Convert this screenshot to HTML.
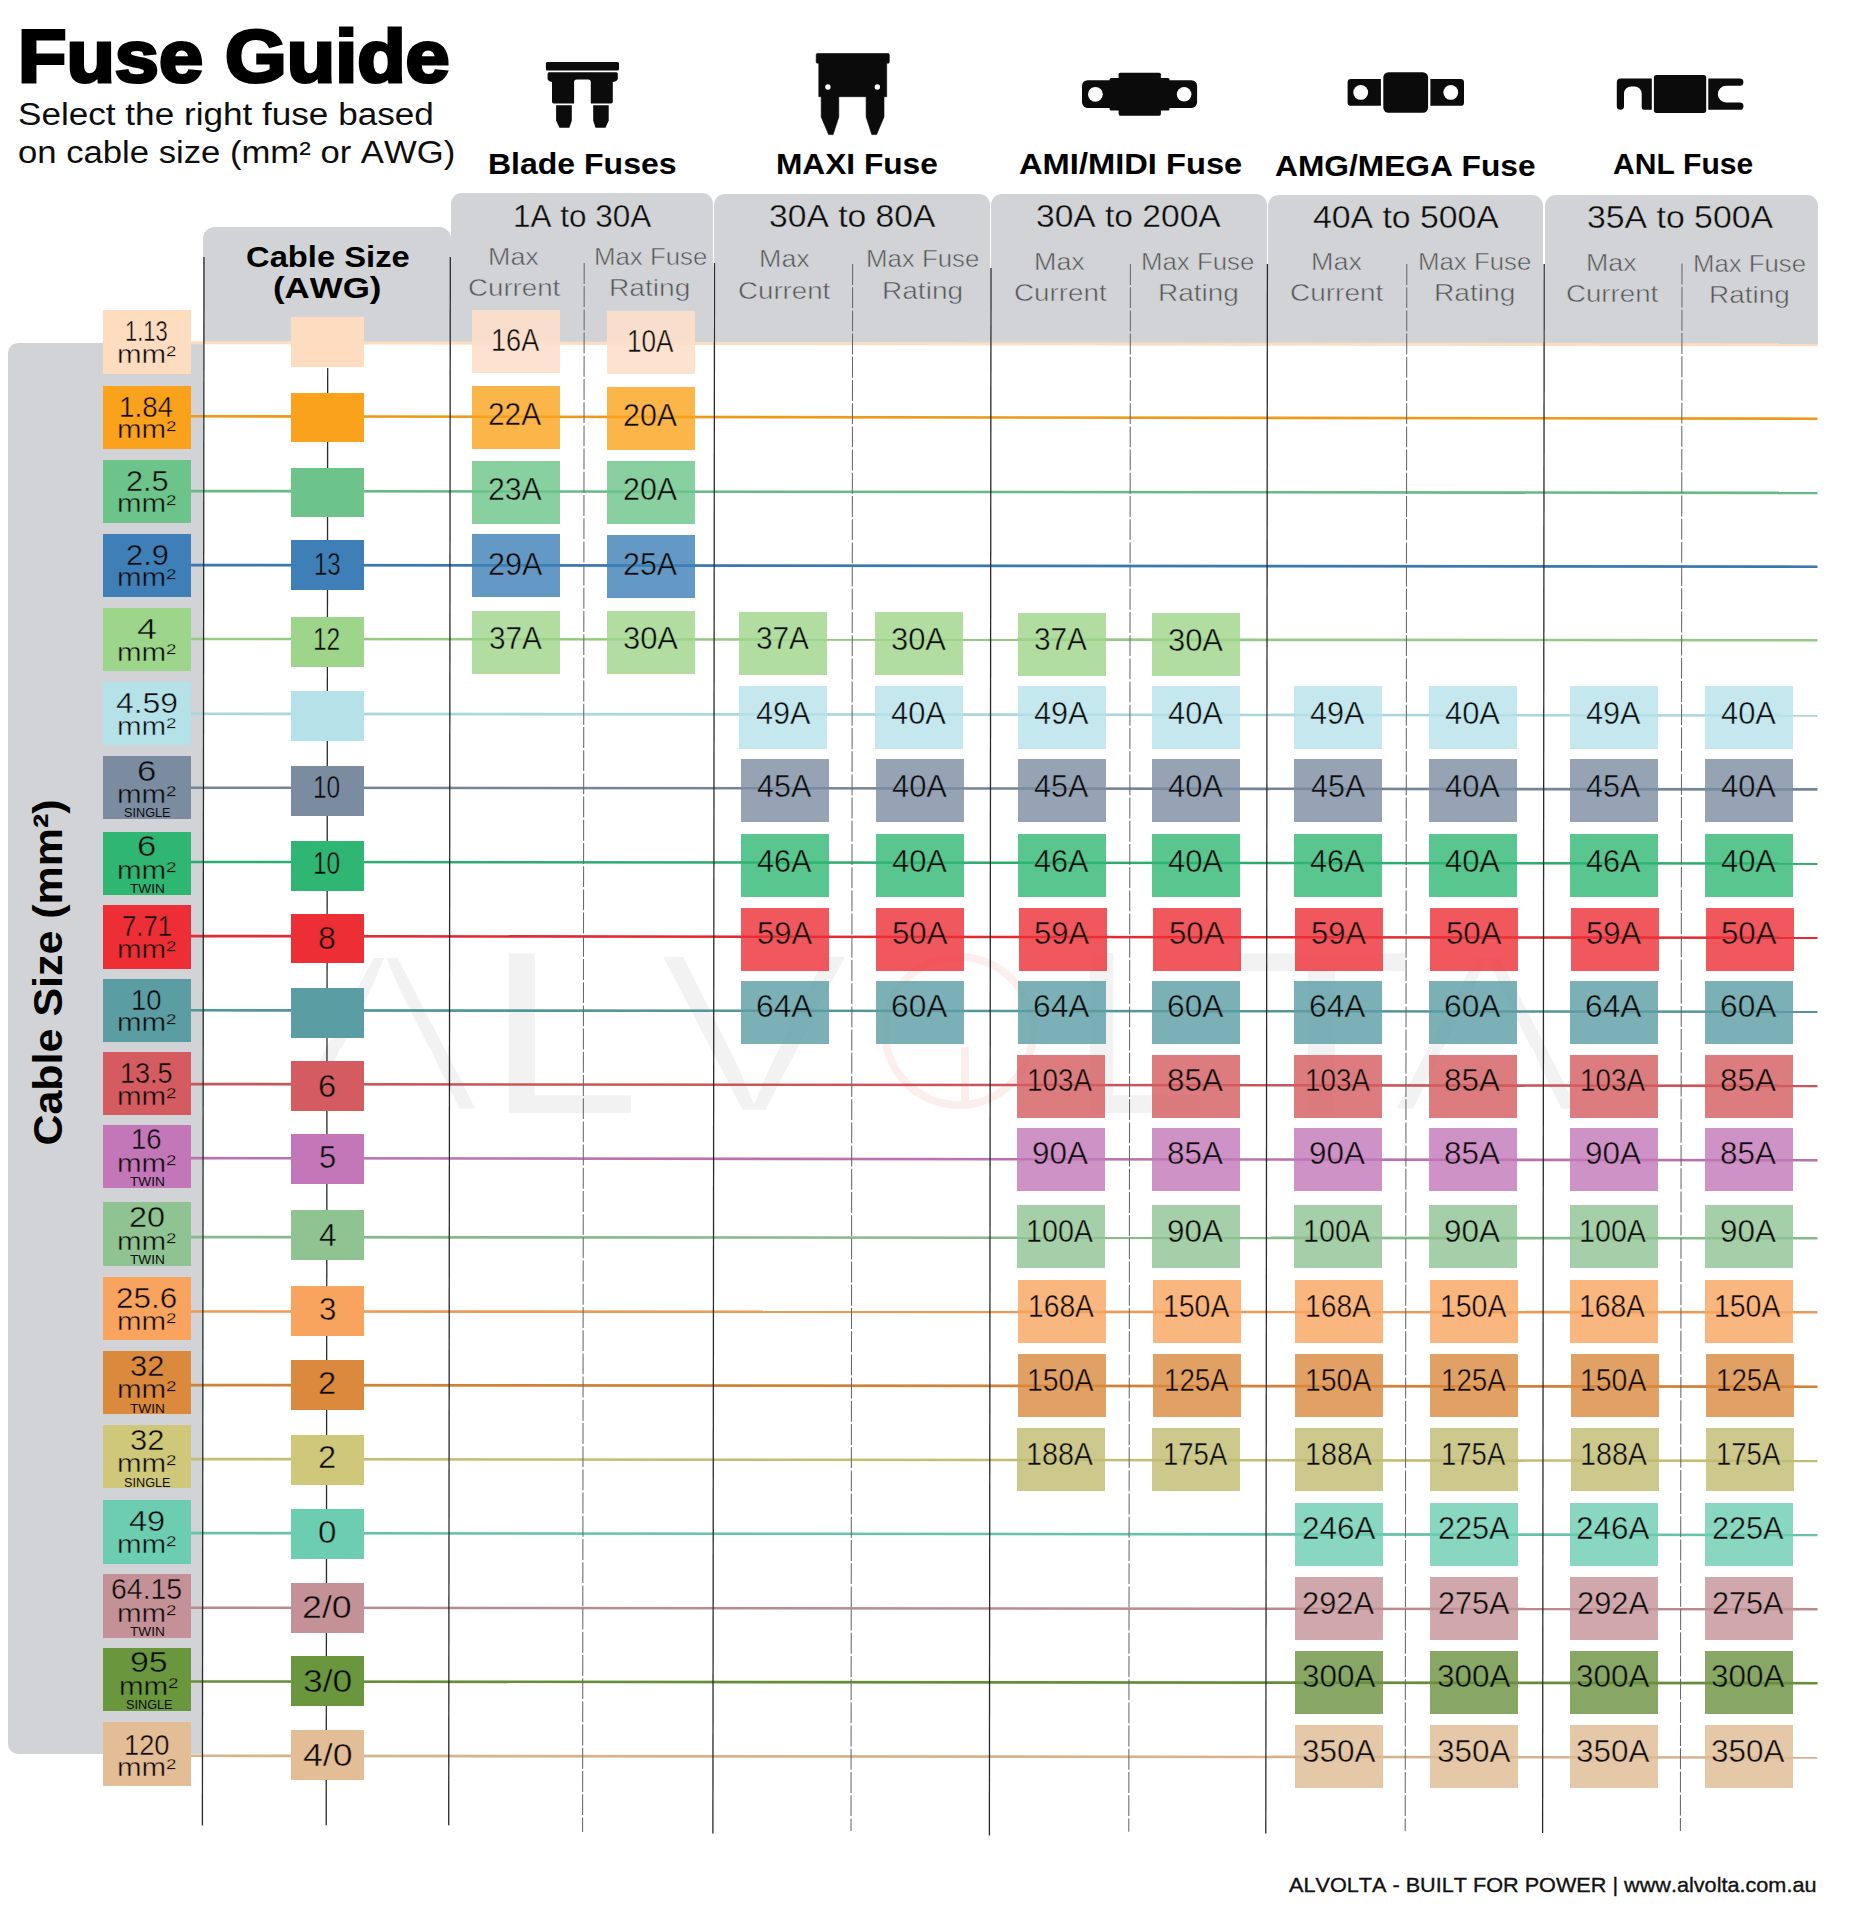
<!DOCTYPE html>
<html lang="en"><head><meta charset="utf-8"><title>Fuse Guide</title>
<style>
html,body{margin:0;padding:0;background:#fff;}
body{width:1872px;height:1920px;position:relative;overflow:hidden;font-family:"Liberation Sans",Arial,sans-serif;color:#0d0d0d;}
#page{position:absolute;left:0;top:0;width:1872px;height:1920px;overflow:hidden;}
.t{position:absolute;white-space:nowrap;transform-origin:0 0;margin:0;padding:0;font-kerning:none;}
.p{position:absolute;background:#d1d3d6;}
.b{position:absolute;}
.v{width:88px;height:63px;opacity:0.8;}
svg{position:absolute;left:0;top:0;}
</style></head><body><div id="page">

<div class="panels">
<div class="p" style="left:8.2px;top:342.7px;width:194.8px;height:1411.8px;border-radius:10px 0 0 10px;"></div>
<div class="p" style="left:203px;top:227px;width:247.6px;height:116.2px;border-radius:12px 12px 0 0;"></div>
<div class="p" style="left:450.8px;top:193.3px;width:262.4px;height:150.6px;border-radius:11px 11px 0 0;"></div>
<div class="p" style="left:714.0px;top:193.7px;width:276.0px;height:150.5px;border-radius:11px 11px 0 0;"></div>
<div class="p" style="left:991.0px;top:194.1px;width:275.8px;height:150.4px;border-radius:11px 11px 0 0;"></div>
<div class="p" style="left:1268.2px;top:194.5px;width:275.2px;height:150.4px;border-radius:11px 11px 0 0;"></div>
<div class="p" style="left:1544.6px;top:195.0px;width:273.4px;height:150.2px;border-radius:11px 11px 0 0;"></div>
</div>
<svg width="1872" height="1920" viewBox="0 0 1872 1920" style="z-index:0">
<g fill="#f2f2f2" font-family="Liberation Sans, Arial, sans-serif" font-size="232" font-weight="400">
<text transform="translate(285.4,1113) scale(1.2871,1)" stroke="#fff" stroke-width="9.0">A</text>
<polygon transform="translate(285.4,1113) scale(0.14580,-0.11328)" points="318,398 1052,398 995,575 376,575" fill="#fff"/>
<text transform="translate(486.3,1113) scale(1.1927,1)">L</text>
<text transform="translate(655.7,1113) scale(1.2704,1)" stroke="#fff" stroke-width="6.5">V</text>
<text transform="translate(1069.5,1113) scale(1.0753,1)">L</text>
<text transform="translate(1231.4,1113) scale(1.2731,1)">T</text>
<text transform="translate(1387.4,1113) scale(1.2871,1)" stroke="#fff" stroke-width="9.0">A</text>
<polygon transform="translate(1387.4,1113) scale(0.14580,-0.11328)" points="318,398 1052,398 995,575 376,575" fill="#fff"/>
</g>
<circle cx="959" cy="1031" r="74" fill="none" stroke="#fdeeee" stroke-width="8"/>
<path d="M965 1047 V1103" fill="none" stroke="#fdeeee" stroke-width="8"/>
</svg>
<svg width="1872" height="1920" viewBox="0 0 1872 1920">
<line x1="190" y1="342.79" x2="1818" y2="344.80" stroke="#fddcc0" stroke-width="3.0"/>
<line x1="190" y1="416.29" x2="1817.5" y2="418.70" stroke="#ed9919" stroke-width="2.6"/>
<line x1="190" y1="491.09" x2="1817.5" y2="492.90" stroke="#66ba83" stroke-width="2.6"/>
<line x1="190" y1="565.09" x2="1817.5" y2="566.70" stroke="#3b78ad" stroke-width="2.6"/>
<line x1="190" y1="638.99" x2="1817.5" y2="640.30" stroke="#95ca83" stroke-width="2.6"/>
<line x1="190" y1="713.79" x2="1817.5" y2="715.50" stroke="#abd6dc" stroke-width="2.6"/>
<line x1="190" y1="787.69" x2="1817.5" y2="789.40" stroke="#748598" stroke-width="2.6"/>
<line x1="190" y1="861.99" x2="1817.5" y2="863.60" stroke="#2cac6d" stroke-width="2.6"/>
<line x1="190" y1="936.09" x2="1817.5" y2="937.80" stroke="#e22b32" stroke-width="2.6"/>
<line x1="190" y1="1010.29" x2="1817.5" y2="1011.80" stroke="#55969b" stroke-width="2.6"/>
<line x1="190" y1="1084.09" x2="1817.5" y2="1085.90" stroke="#c9565a" stroke-width="2.6"/>
<line x1="190" y1="1158.09" x2="1817.5" y2="1160.30" stroke="#b971af" stroke-width="2.6"/>
<line x1="190" y1="1237.09" x2="1817.5" y2="1238.30" stroke="#87b98a" stroke-width="2.6"/>
<line x1="190" y1="1311.50" x2="1817.5" y2="1312.30" stroke="#eb9b59" stroke-width="2.6"/>
<line x1="190" y1="1385.09" x2="1817.5" y2="1386.70" stroke="#d08239" stroke-width="2.6"/>
<line x1="190" y1="1459.09" x2="1817.5" y2="1460.90" stroke="#c4be73" stroke-width="2.6"/>
<line x1="190" y1="1533.09" x2="1817.5" y2="1535.00" stroke="#66c2a8" stroke-width="2.6"/>
<line x1="190" y1="1607.69" x2="1817.5" y2="1609.20" stroke="#ba8a8e" stroke-width="2.6"/>
<line x1="190" y1="1681.49" x2="1817.5" y2="1683.20" stroke="#648e3a" stroke-width="2.6"/>
<line x1="190" y1="1755.79" x2="1817.5" y2="1757.50" stroke="#d6b38d" stroke-width="2.6"/>
<line x1="204.00" y1="257" x2="202.40" y2="1825.5" stroke="#2b2b2d" stroke-width="1.3"/>
<line x1="327.69" y1="368" x2="326.20" y2="1825.2" stroke="#2b2b2d" stroke-width="1.3"/>
<line x1="450.30" y1="257" x2="448.70" y2="1825.2" stroke="#2b2b2d" stroke-width="1.3"/>
<line x1="714.50" y1="263" x2="712.90" y2="1833.5" stroke="#2b2b2d" stroke-width="1.3"/>
<line x1="990.99" y1="268" x2="989.39" y2="1835.5" stroke="#2b2b2d" stroke-width="1.3"/>
<line x1="1267.40" y1="264" x2="1265.80" y2="1833.5" stroke="#2b2b2d" stroke-width="1.3"/>
<line x1="1544.20" y1="264" x2="1542.60" y2="1833.0" stroke="#2b2b2d" stroke-width="1.3"/>
<line x1="584.20" y1="263" x2="582.60" y2="1832" stroke="#68686c" stroke-width="1.05" stroke-dasharray="20.9 2.3"/>
<line x1="852.60" y1="264" x2="851.00" y2="1831" stroke="#68686c" stroke-width="1.05" stroke-dasharray="20.9 2.3"/>
<line x1="1130.40" y1="264" x2="1128.80" y2="1831.7" stroke="#68686c" stroke-width="1.05" stroke-dasharray="20.9 2.3"/>
<line x1="1406.80" y1="264" x2="1405.20" y2="1831.2" stroke="#68686c" stroke-width="1.05" stroke-dasharray="20.9 2.3"/>
<line x1="1682.00" y1="263.5" x2="1680.40" y2="1831" stroke="#68686c" stroke-width="1.05" stroke-dasharray="20.9 2.3"/>
</svg>
<svg width="1872" height="1920" viewBox="0 0 1872 1920" fill="#0b0b0b">
<rect x="545.9" y="62" width="73.1" height="8.6" rx="1.5"/>
<path d="M549.1 72.2 H616.3 Q617.8 72.2 617.8 73.7 V78.5 Q617.8 81 612.8 82 V101.7 Q612.8 103.5 611 103.5 H590.8 V82 Q590.8 79.4 588.2 79.4 H576.7 Q574.1 79.4 574.1 82 V103.5 H553.8 Q552 103.5 552 101.7 V82 Q547.6 81 547.6 78.5 V73.7 Q547.6 72.2 549.1 72.2 Z"/>
<path d="M556.1 105.2 H571.8 V120.5 L569.4 127.8 H559.4 L556.1 120.5 Z"/>
<path d="M593.2 105.2 H608.7 V120.5 L605.5 127.8 H595.5 L593.2 120.5 Z"/>
<path d="M817.4 53.5 H888.1 Q889.3 53.5 889.3 54.7 V62 Q889.3 63.2 888.1 63.2 H886.7 V96.7 H884 V117 L876.6 134.6 H871.8 L866.1 117 V96.7 H838.8 V117 L833.1 134.6 H828.6 L821.2 117 V96.7 H818.8 V63.2 H817.4 Q816.2 63.2 816.2 62 V54.7 Q816.2 53.5 817.4 53.5 Z" stroke="#0b0b0b" stroke-width="0.6" stroke-linejoin="round"/>
<circle cx="827.9" cy="87" r="2.7" fill="#fff"/><circle cx="877.3" cy="87" r="2.7" fill="#fff"/>
<rect x="1082" y="80.2" width="115.1" height="27.7" rx="5.6"/>
<rect x="1109.6" y="78" width="59.9" height="32.5" rx="1.5"/>
<rect x="1118.6" y="72.7" width="42.3" height="43" rx="1.6"/>
<circle cx="1095.4" cy="94.3" r="7.4" fill="#fff"/><circle cx="1184.1" cy="94.3" r="7.3" fill="#fff"/>
<path d="M1351 79.1 H1380.9 V105.8 H1351 Q1347.6 105.8 1347.6 102.4 V82.5 Q1347.6 79.1 1351 79.1 Z"/>
<path d="M1430.4 79.1 H1460.6 Q1464 79.1 1464 82.5 V102.4 Q1464 105.8 1460.6 105.8 H1430.4 Z"/>
<rect x="1383.3" y="72.3" width="44.8" height="40.4" rx="5.2"/>
<circle cx="1360.7" cy="92.4" r="7.4" fill="#fff"/><circle cx="1450.8" cy="92.4" r="7.4" fill="#fff"/>
<path d="M1620.6 78.6 H1651.8 V109.8 H1644 Q1641.7 109.8 1641.7 107.5 V93.6 A7.2 7.2 0 0 0 1634.5 86.4 H1631.2 A7.2 7.2 0 0 0 1624 93.6 V106.2 A3.6 3.6 0 0 1 1616.8 106.2 V82.4 Q1616.8 78.6 1620.6 78.6 Z"/>
<rect x="1653.9" y="75" width="52.3" height="37.9" rx="2.6"/>
<path d="M1708.3 78.6 H1739.8 A3.6 3.6 0 0 1 1739.8 85.8 H1726.2 A8.35 8.35 0 0 0 1726.2 102.5 H1739.8 A3.65 3.65 0 0 1 1739.8 109.8 H1708.3 Z"/>
</svg>
<header class="title">
<div class="t " style="left:18.40px;top:19.58px;font-size:73.6px;line-height:73.6px;transform:scaleX(1.0772);font-weight:700;color:#000;-webkit-text-stroke:3.2px currentColor;">Fuse Guide</div>
<div class="t " style="left:18.01px;top:98.95px;font-size:31px;line-height:31px;transform:scaleX(1.1329);">Select the right fuse based</div>
<div class="t " style="left:18.14px;top:137.05px;font-size:31px;line-height:31px;transform:scaleX(1.1181);">on cable size (mm² or AWG)</div>
</header>
<section class="fuse-types">
<div class="t " style="left:488.16px;top:149.42px;font-size:29.5px;line-height:29.5px;transform:scaleX(1.0850);font-weight:700;color:#000;">Blade Fuses</div>
<div class="t " style="left:775.88px;top:148.62px;font-size:29.5px;line-height:29.5px;transform:scaleX(1.0729);font-weight:700;color:#000;">MAXI Fuse</div>
<div class="t " style="left:1019.19px;top:148.62px;font-size:29.5px;line-height:29.5px;transform:scaleX(1.1074);font-weight:700;color:#000;">AMI/MIDI Fuse</div>
<div class="t " style="left:1274.91px;top:151.02px;font-size:29.5px;line-height:29.5px;transform:scaleX(1.0742);font-weight:700;color:#000;">AMG/MEGA Fuse</div>
<div class="t " style="left:1613.15px;top:148.52px;font-size:29.5px;line-height:29.5px;transform:scaleX(1.0189);font-weight:700;color:#000;">ANL Fuse</div>
<div class="t " style="left:512.60px;top:200.88px;font-size:30.5px;line-height:30.5px;transform:scaleX(1.0313);-webkit-text-stroke:0.35px #d1d3d6;">1A to 30A</div>
<div class="t " style="left:768.72px;top:201.08px;font-size:30.5px;line-height:30.5px;transform:scaleX(1.1022);-webkit-text-stroke:0.35px #d1d3d6;">30A to 80A</div>
<div class="t " style="left:1036.02px;top:200.98px;font-size:30.5px;line-height:30.5px;transform:scaleX(1.1004);-webkit-text-stroke:0.35px #d1d3d6;">30A to 200A</div>
<div class="t " style="left:1312.53px;top:201.88px;font-size:30.5px;line-height:30.5px;transform:scaleX(1.1070);-webkit-text-stroke:0.35px #d1d3d6;">40A to 500A</div>
<div class="t " style="left:1586.71px;top:201.88px;font-size:30.5px;line-height:30.5px;transform:scaleX(1.1082);-webkit-text-stroke:0.35px #d1d3d6;">35A to 500A</div>
<div class="t " style="left:488.49px;top:244.68px;font-size:24px;line-height:24px;transform:scaleX(1.1203);color:#58595c;-webkit-text-stroke:0.5px #d1d3d6;">Max</div>
<div class="t " style="left:467.89px;top:275.68px;font-size:24px;line-height:24px;transform:scaleX(1.1535);color:#58595c;-webkit-text-stroke:0.5px #d1d3d6;">Current</div>
<div class="t " style="left:593.58px;top:244.68px;font-size:24px;line-height:24px;transform:scaleX(1.0750);color:#58595c;-webkit-text-stroke:0.5px #d1d3d6;">Max Fuse</div>
<div class="t " style="left:609.39px;top:275.68px;font-size:24px;line-height:24px;transform:scaleX(1.1737);color:#58595c;-webkit-text-stroke:0.5px #d1d3d6;">Rating</div>
<div class="t " style="left:758.79px;top:247.38px;font-size:24px;line-height:24px;transform:scaleX(1.1203);color:#58595c;-webkit-text-stroke:0.5px #d1d3d6;">Max</div>
<div class="t " style="left:737.89px;top:278.98px;font-size:24px;line-height:24px;transform:scaleX(1.1535);color:#58595c;-webkit-text-stroke:0.5px #d1d3d6;">Current</div>
<div class="t " style="left:865.58px;top:247.38px;font-size:24px;line-height:24px;transform:scaleX(1.0750);color:#58595c;-webkit-text-stroke:0.5px #d1d3d6;">Max Fuse</div>
<div class="t " style="left:881.70px;top:278.98px;font-size:24px;line-height:24px;transform:scaleX(1.1692);color:#58595c;-webkit-text-stroke:0.5px #d1d3d6;">Rating</div>
<div class="t " style="left:1034.49px;top:250.38px;font-size:24px;line-height:24px;transform:scaleX(1.1203);color:#58595c;-webkit-text-stroke:0.5px #d1d3d6;">Max</div>
<div class="t " style="left:1013.59px;top:281.38px;font-size:24px;line-height:24px;transform:scaleX(1.1573);color:#58595c;-webkit-text-stroke:0.5px #d1d3d6;">Current</div>
<div class="t " style="left:1141.18px;top:250.38px;font-size:24px;line-height:24px;transform:scaleX(1.0750);color:#58595c;-webkit-text-stroke:0.5px #d1d3d6;">Max Fuse</div>
<div class="t " style="left:1157.71px;top:281.38px;font-size:24px;line-height:24px;transform:scaleX(1.1646);color:#58595c;-webkit-text-stroke:0.5px #d1d3d6;">Rating</div>
<div class="t " style="left:1311.09px;top:250.38px;font-size:24px;line-height:24px;transform:scaleX(1.1226);color:#58595c;-webkit-text-stroke:0.5px #d1d3d6;">Max</div>
<div class="t " style="left:1289.58px;top:281.38px;font-size:24px;line-height:24px;transform:scaleX(1.1662);color:#58595c;-webkit-text-stroke:0.5px #d1d3d6;">Current</div>
<div class="t " style="left:1417.88px;top:250.38px;font-size:24px;line-height:24px;transform:scaleX(1.0750);color:#58595c;-webkit-text-stroke:0.5px #d1d3d6;">Max Fuse</div>
<div class="t " style="left:1433.69px;top:281.38px;font-size:24px;line-height:24px;transform:scaleX(1.1737);color:#58595c;-webkit-text-stroke:0.5px #d1d3d6;">Rating</div>
<div class="t " style="left:1586.20px;top:251.08px;font-size:24px;line-height:24px;transform:scaleX(1.1157);color:#58595c;-webkit-text-stroke:0.5px #d1d3d6;">Max</div>
<div class="t " style="left:1565.60px;top:282.28px;font-size:24px;line-height:24px;transform:scaleX(1.1522);color:#58595c;-webkit-text-stroke:0.5px #d1d3d6;">Current</div>
<div class="t " style="left:1693.09px;top:252.08px;font-size:24px;line-height:24px;transform:scaleX(1.0730);color:#58595c;-webkit-text-stroke:0.5px #d1d3d6;">Max Fuse</div>
<div class="t " style="left:1708.91px;top:282.88px;font-size:24px;line-height:24px;transform:scaleX(1.1631);color:#58595c;-webkit-text-stroke:0.5px #d1d3d6;">Rating</div>
</section>
<section class="axis-labels">
<div class="t " style="left:245.66px;top:241.90px;font-size:30px;line-height:30px;transform:scaleX(1.0913);font-weight:700;color:#000;">Cable Size</div>
<div class="t " style="left:273.26px;top:272.90px;font-size:30px;line-height:30px;transform:scaleX(1.1627);font-weight:700;color:#000;">(AWG)</div>
<div class="t" style="left:0;top:0;font-size:40px;line-height:40px;font-weight:700;color:#000;transform-origin:0 0;transform:translate(27.63px,1145.56px) rotate(-90deg) scaleX(1.0742);">Cable Size (mm²)</div>
</section>
<main class="chart">
<div class="row r0">
<div class="b" style="left:103.0px;top:310.3px;width:88.0px;height:63.3px;background:#fddcc0;"></div>
<div class="t " style="left:125.30px;top:316.39px;font-size:29.3px;line-height:29.3px;transform:scaleX(0.7485);-webkit-text-stroke:0.45px #fddcc0;">1.13</div>
<div class="t " style="left:117.46px;top:341.96px;font-size:25.8px;line-height:25.8px;transform:scaleX(1.1454);-webkit-text-stroke:0.45px #fddcc0;">mm²</div>
<div class="b" style="left:290.8px;top:317.3px;width:73.19999999999999px;height:49.8px;background:#fddcc0;"></div>
<div class="b v" style="left:471.7px;top:310.0px;background:#fddfca;opacity:0.9;"></div>
<div class="t " style="left:490.56px;top:324.75px;font-size:31px;line-height:31px;transform:scaleX(0.8751);-webkit-text-stroke:0.45px #fde2cf;">16A</div>
<div class="b v" style="left:606.8px;top:311.2px;background:#fddfca;opacity:0.9;"></div>
<div class="t " style="left:626.58px;top:325.95px;font-size:31px;line-height:31px;transform:scaleX(0.8429);-webkit-text-stroke:0.45px #fde2cf;">10A</div>
</div>
<div class="row r1">
<div class="b" style="left:103.0px;top:385.5px;width:88.0px;height:63.3px;background:#faa21b;"></div>
<div class="t " style="left:119.36px;top:391.59px;font-size:29.3px;line-height:29.3px;transform:scaleX(0.9465);-webkit-text-stroke:0.45px #faa21b;">1.84</div>
<div class="t " style="left:117.46px;top:417.16px;font-size:25.8px;line-height:25.8px;transform:scaleX(1.1454);-webkit-text-stroke:0.45px #faa21b;">mm²</div>
<div class="b" style="left:290.8px;top:392.7px;width:73.19999999999999px;height:49.8px;background:#faa21b;"></div>
<div class="b v" style="left:471.7px;top:385.7px;background:#faa21b;"></div>
<div class="t " style="left:488.48px;top:399.05px;font-size:31px;line-height:31px;transform:scaleX(0.9610);-webkit-text-stroke:0.45px #fbb549;">22A</div>
<div class="b v" style="left:606.8px;top:387.0px;background:#faa21b;"></div>
<div class="t " style="left:623.05px;top:400.35px;font-size:31px;line-height:31px;transform:scaleX(0.9797);-webkit-text-stroke:0.45px #fbb549;">20A</div>
</div>
<div class="row r2">
<div class="b" style="left:103.0px;top:459.8px;width:88.0px;height:63.3px;background:#6cc48a;"></div>
<div class="t " style="left:125.53px;top:465.89px;font-size:29.3px;line-height:29.3px;transform:scaleX(1.0479);-webkit-text-stroke:0.45px #6cc48a;">2.5</div>
<div class="t " style="left:117.46px;top:491.46px;font-size:25.8px;line-height:25.8px;transform:scaleX(1.1454);-webkit-text-stroke:0.45px #6cc48a;">mm²</div>
<div class="b" style="left:290.8px;top:467.7px;width:73.19999999999999px;height:49.8px;background:#6cc48a;"></div>
<div class="b v" style="left:471.7px;top:461.0px;background:#6cc48a;"></div>
<div class="t " style="left:488.11px;top:474.05px;font-size:31px;line-height:31px;transform:scaleX(0.9741);-webkit-text-stroke:0.45px #89d0a1;">23A</div>
<div class="b v" style="left:606.8px;top:461.0px;background:#6cc48a;"></div>
<div class="t " style="left:623.05px;top:474.05px;font-size:31px;line-height:31px;transform:scaleX(0.9797);-webkit-text-stroke:0.45px #89d0a1;">20A</div>
</div>
<div class="row r3">
<div class="b" style="left:103.0px;top:533.8px;width:88.0px;height:63.3px;background:#3f7fb7;"></div>
<div class="t " style="left:125.52px;top:539.89px;font-size:29.3px;line-height:29.3px;transform:scaleX(1.0523);-webkit-text-stroke:0.45px #3f7fb7;">2.9</div>
<div class="t " style="left:117.46px;top:565.46px;font-size:25.8px;line-height:25.8px;transform:scaleX(1.1454);-webkit-text-stroke:0.45px #3f7fb7;">mm²</div>
<div class="b" style="left:290.8px;top:540.4px;width:73.19999999999999px;height:49.8px;background:#3f7fb7;"></div>
<div class="t " style="left:313.64px;top:549.45px;font-size:31px;line-height:31px;transform:scaleX(0.7754);-webkit-text-stroke:0.45px #3f7fb7;">13</div>
<div class="b v" style="left:471.7px;top:534.3px;background:#3f7fb7;"></div>
<div class="t " style="left:487.79px;top:548.65px;font-size:31px;line-height:31px;transform:scaleX(0.9853);-webkit-text-stroke:0.45px #6599c5;">29A</div>
<div class="b v" style="left:606.8px;top:535.0px;background:#3f7fb7;"></div>
<div class="t " style="left:623.05px;top:549.35px;font-size:31px;line-height:31px;transform:scaleX(0.9797);-webkit-text-stroke:0.45px #6599c5;">25A</div>
</div>
<div class="row r4">
<div class="b" style="left:103.0px;top:608.0px;width:88.0px;height:63.3px;background:#9dd58a;"></div>
<div class="t " style="left:137.15px;top:614.09px;font-size:29.3px;line-height:29.3px;transform:scaleX(1.2225);-webkit-text-stroke:0.45px #9dd58a;">4</div>
<div class="t " style="left:117.46px;top:639.66px;font-size:25.8px;line-height:25.8px;transform:scaleX(1.1454);-webkit-text-stroke:0.45px #9dd58a;">mm²</div>
<div class="b" style="left:290.8px;top:617.0px;width:73.19999999999999px;height:49.8px;background:#9dd58a;"></div>
<div class="t " style="left:313.46px;top:624.05px;font-size:31px;line-height:31px;transform:scaleX(0.7902);-webkit-text-stroke:0.45px #9dd58a;">12</div>
<div class="b v" style="left:471.7px;top:611.0px;background:#9dd58a;"></div>
<div class="t " style="left:488.69px;top:622.65px;font-size:31px;line-height:31px;transform:scaleX(0.9598);-webkit-text-stroke:0.45px #b1dda1;">37A</div>
<div class="b v" style="left:606.8px;top:611.4px;background:#9dd58a;"></div>
<div class="t " style="left:622.75px;top:623.06px;font-size:31px;line-height:31px;transform:scaleX(0.9969);-webkit-text-stroke:0.45px #b1dda1;">30A</div>
<div class="b v" style="left:739.4px;top:611.8px;background:#9dd58a;"></div>
<div class="t " style="left:756.39px;top:623.46px;font-size:31px;line-height:31px;transform:scaleX(0.9598);-webkit-text-stroke:0.45px #b1dda1;">37A</div>
<div class="b v" style="left:874.6px;top:612.2px;background:#9dd58a;"></div>
<div class="t " style="left:890.55px;top:623.86px;font-size:31px;line-height:31px;transform:scaleX(0.9969);-webkit-text-stroke:0.45px #b1dda1;">30A</div>
<div class="b v" style="left:1017.5px;top:612.6px;background:#9dd58a;"></div>
<div class="t " style="left:1034.49px;top:624.29px;font-size:31px;line-height:31px;transform:scaleX(0.9598);-webkit-text-stroke:0.45px #b1dda1;">37A</div>
<div class="b v" style="left:1152.0px;top:613.0px;background:#9dd58a;"></div>
<div class="t " style="left:1167.95px;top:624.70px;font-size:31px;line-height:31px;transform:scaleX(0.9969);-webkit-text-stroke:0.45px #b1dda1;">30A</div>
</div>
<div class="row r5">
<div class="b" style="left:103.0px;top:682.0px;width:88.0px;height:63.3px;background:#b5e2e8;"></div>
<div class="t " style="left:116.34px;top:688.09px;font-size:29.3px;line-height:29.3px;transform:scaleX(1.0889);-webkit-text-stroke:0.45px #b5e2e8;">4.59</div>
<div class="t " style="left:117.46px;top:713.66px;font-size:25.8px;line-height:25.8px;transform:scaleX(1.1454);-webkit-text-stroke:0.45px #b5e2e8;">mm²</div>
<div class="b" style="left:290.8px;top:691.0px;width:73.19999999999999px;height:49.8px;background:#b5e2e8;"></div>
<div class="b v" style="left:739.4px;top:685.7px;background:#b5e2e8;"></div>
<div class="t " style="left:755.82px;top:698.05px;font-size:31px;line-height:31px;transform:scaleX(0.9883);-webkit-text-stroke:0.45px #c4e8ed;">49A</div>
<div class="b v" style="left:874.6px;top:685.7px;background:#b5e2e8;"></div>
<div class="t " style="left:890.82px;top:698.05px;font-size:31px;line-height:31px;transform:scaleX(0.9957);-webkit-text-stroke:0.45px #c4e8ed;">40A</div>
<div class="b v" style="left:1017.5px;top:685.7px;background:#b5e2e8;"></div>
<div class="t " style="left:1033.92px;top:698.05px;font-size:31px;line-height:31px;transform:scaleX(0.9883);-webkit-text-stroke:0.45px #c4e8ed;">49A</div>
<div class="b v" style="left:1152.0px;top:685.7px;background:#b5e2e8;"></div>
<div class="t " style="left:1168.22px;top:698.05px;font-size:31px;line-height:31px;transform:scaleX(0.9957);-webkit-text-stroke:0.45px #c4e8ed;">40A</div>
<div class="b v" style="left:1294.0px;top:685.7px;background:#b5e2e8;"></div>
<div class="t " style="left:1310.42px;top:698.05px;font-size:31px;line-height:31px;transform:scaleX(0.9883);-webkit-text-stroke:0.45px #c4e8ed;">49A</div>
<div class="b v" style="left:1429.0px;top:685.7px;background:#b5e2e8;"></div>
<div class="t " style="left:1445.22px;top:698.05px;font-size:31px;line-height:31px;transform:scaleX(0.9957);-webkit-text-stroke:0.45px #c4e8ed;">40A</div>
<div class="b v" style="left:1569.5px;top:685.7px;background:#b5e2e8;"></div>
<div class="t " style="left:1585.92px;top:698.05px;font-size:31px;line-height:31px;transform:scaleX(0.9883);-webkit-text-stroke:0.45px #c4e8ed;">49A</div>
<div class="b v" style="left:1704.5px;top:685.7px;background:#b5e2e8;"></div>
<div class="t " style="left:1720.72px;top:698.05px;font-size:31px;line-height:31px;transform:scaleX(0.9957);-webkit-text-stroke:0.45px #c4e8ed;">40A</div>
</div>
<div class="row r6">
<div class="b" style="left:103.0px;top:755.8px;width:88.0px;height:63.3px;background:#7b8ca1;"></div>
<div class="t " style="left:137.21px;top:755.59px;font-size:29.3px;line-height:29.3px;transform:scaleX(1.1871);-webkit-text-stroke:0.45px #7b8ca1;">6</div>
<div class="t " style="left:117.46px;top:781.96px;font-size:25.8px;line-height:25.8px;transform:scaleX(1.1454);-webkit-text-stroke:0.45px #7b8ca1;">mm²</div>
<div class="t " style="left:123.72px;top:806.39px;font-size:13px;line-height:13px;transform:scaleX(0.9756);">SINGLE</div>
<div class="b" style="left:290.8px;top:765.8px;width:73.19999999999999px;height:49.8px;background:#7b8ca1;"></div>
<div class="t " style="left:313.36px;top:772.35px;font-size:31px;line-height:31px;transform:scaleX(0.7878);-webkit-text-stroke:0.45px #7b8ca1;">10</div>
<div class="b v" style="left:740.8px;top:759.0px;background:#7b8ca1;"></div>
<div class="t " style="left:757.38px;top:770.75px;font-size:31px;line-height:31px;transform:scaleX(0.9828);-webkit-text-stroke:0.45px #95a3b4;">45A</div>
<div class="b v" style="left:876.0px;top:759.0px;background:#7b8ca1;"></div>
<div class="t " style="left:892.22px;top:770.75px;font-size:31px;line-height:31px;transform:scaleX(0.9957);-webkit-text-stroke:0.45px #95a3b4;">40A</div>
<div class="b v" style="left:1017.5px;top:759.0px;background:#7b8ca1;"></div>
<div class="t " style="left:1034.08px;top:770.75px;font-size:31px;line-height:31px;transform:scaleX(0.9828);-webkit-text-stroke:0.45px #95a3b4;">45A</div>
<div class="b v" style="left:1152.0px;top:759.0px;background:#7b8ca1;"></div>
<div class="t " style="left:1168.22px;top:770.75px;font-size:31px;line-height:31px;transform:scaleX(0.9957);-webkit-text-stroke:0.45px #95a3b4;">40A</div>
<div class="b v" style="left:1294.0px;top:759.0px;background:#7b8ca1;"></div>
<div class="t " style="left:1310.58px;top:770.75px;font-size:31px;line-height:31px;transform:scaleX(0.9828);-webkit-text-stroke:0.45px #95a3b4;">45A</div>
<div class="b v" style="left:1429.0px;top:759.0px;background:#7b8ca1;"></div>
<div class="t " style="left:1445.22px;top:770.75px;font-size:31px;line-height:31px;transform:scaleX(0.9957);-webkit-text-stroke:0.45px #95a3b4;">40A</div>
<div class="b v" style="left:1569.5px;top:759.0px;background:#7b8ca1;"></div>
<div class="t " style="left:1586.08px;top:770.75px;font-size:31px;line-height:31px;transform:scaleX(0.9828);-webkit-text-stroke:0.45px #95a3b4;">45A</div>
<div class="b v" style="left:1704.5px;top:759.0px;background:#7b8ca1;"></div>
<div class="t " style="left:1720.72px;top:770.75px;font-size:31px;line-height:31px;transform:scaleX(0.9957);-webkit-text-stroke:0.45px #95a3b4;">40A</div>
</div>
<div class="row r7">
<div class="b" style="left:103.0px;top:831.5px;width:88.0px;height:63.3px;background:#2fb673;"></div>
<div class="t " style="left:137.21px;top:831.29px;font-size:29.3px;line-height:29.3px;transform:scaleX(1.1871);-webkit-text-stroke:0.45px #2fb673;">6</div>
<div class="t " style="left:117.46px;top:857.66px;font-size:25.8px;line-height:25.8px;transform:scaleX(1.1454);-webkit-text-stroke:0.45px #2fb673;">mm²</div>
<div class="t " style="left:129.94px;top:882.09px;font-size:13px;line-height:13px;transform:scaleX(1.0515);">TWIN</div>
<div class="b" style="left:290.8px;top:840.8px;width:73.19999999999999px;height:49.8px;background:#2fb673;"></div>
<div class="t " style="left:313.36px;top:848.35px;font-size:31px;line-height:31px;transform:scaleX(0.7878);-webkit-text-stroke:0.45px #2fb673;">10</div>
<div class="b v" style="left:740.8px;top:834.0px;background:#2fb673;"></div>
<div class="t " style="left:757.22px;top:845.75px;font-size:31px;line-height:31px;transform:scaleX(0.9883);-webkit-text-stroke:0.45px #59c58f;">46A</div>
<div class="b v" style="left:876.0px;top:834.0px;background:#2fb673;"></div>
<div class="t " style="left:892.22px;top:845.75px;font-size:31px;line-height:31px;transform:scaleX(0.9957);-webkit-text-stroke:0.45px #59c58f;">40A</div>
<div class="b v" style="left:1017.5px;top:834.0px;background:#2fb673;"></div>
<div class="t " style="left:1033.92px;top:845.75px;font-size:31px;line-height:31px;transform:scaleX(0.9883);-webkit-text-stroke:0.45px #59c58f;">46A</div>
<div class="b v" style="left:1152.0px;top:834.0px;background:#2fb673;"></div>
<div class="t " style="left:1168.22px;top:845.75px;font-size:31px;line-height:31px;transform:scaleX(0.9957);-webkit-text-stroke:0.45px #59c58f;">40A</div>
<div class="b v" style="left:1294.0px;top:834.0px;background:#2fb673;"></div>
<div class="t " style="left:1310.42px;top:845.75px;font-size:31px;line-height:31px;transform:scaleX(0.9883);-webkit-text-stroke:0.45px #59c58f;">46A</div>
<div class="b v" style="left:1429.0px;top:834.0px;background:#2fb673;"></div>
<div class="t " style="left:1445.22px;top:845.75px;font-size:31px;line-height:31px;transform:scaleX(0.9957);-webkit-text-stroke:0.45px #59c58f;">40A</div>
<div class="b v" style="left:1569.5px;top:834.0px;background:#2fb673;"></div>
<div class="t " style="left:1585.92px;top:845.75px;font-size:31px;line-height:31px;transform:scaleX(0.9883);-webkit-text-stroke:0.45px #59c58f;">46A</div>
<div class="b v" style="left:1704.5px;top:834.0px;background:#2fb673;"></div>
<div class="t " style="left:1720.72px;top:845.75px;font-size:31px;line-height:31px;transform:scaleX(0.9957);-webkit-text-stroke:0.45px #59c58f;">40A</div>
</div>
<div class="row r8">
<div class="b" style="left:103.0px;top:905.4px;width:88.0px;height:63.3px;background:#ee2e35;"></div>
<div class="t " style="left:122.01px;top:911.49px;font-size:29.3px;line-height:29.3px;transform:scaleX(0.8753);-webkit-text-stroke:0.45px #ee2e35;">7.71</div>
<div class="t " style="left:117.46px;top:937.06px;font-size:25.8px;line-height:25.8px;transform:scaleX(1.1454);-webkit-text-stroke:0.45px #ee2e35;">mm²</div>
<div class="b" style="left:290.8px;top:913.5px;width:73.19999999999999px;height:49.8px;background:#ee2e35;"></div>
<div class="t " style="left:318.48px;top:922.65px;font-size:31px;line-height:31px;transform:scaleX(1.0346);-webkit-text-stroke:0.45px #ee2e35;">8</div>
<div class="b v" style="left:740.8px;top:907.7px;background:#ee2e35;"></div>
<div class="t " style="left:756.69px;top:918.05px;font-size:31px;line-height:31px;transform:scaleX(0.9980);-webkit-text-stroke:0.45px #f1585d;">59A</div>
<div class="b v" style="left:876.0px;top:907.7px;background:#ee2e35;"></div>
<div class="t " style="left:891.68px;top:918.05px;font-size:31px;line-height:31px;transform:scaleX(1.0055);-webkit-text-stroke:0.45px #f1585d;">50A</div>
<div class="b v" style="left:1018.5px;top:907.7px;background:#ee2e35;"></div>
<div class="t " style="left:1034.39px;top:918.05px;font-size:31px;line-height:31px;transform:scaleX(0.9980);-webkit-text-stroke:0.45px #f1585d;">59A</div>
<div class="b v" style="left:1153.0px;top:907.7px;background:#ee2e35;"></div>
<div class="t " style="left:1168.68px;top:918.05px;font-size:31px;line-height:31px;transform:scaleX(1.0055);-webkit-text-stroke:0.45px #f1585d;">50A</div>
<div class="b v" style="left:1295.0px;top:907.7px;background:#ee2e35;"></div>
<div class="t " style="left:1310.89px;top:918.05px;font-size:31px;line-height:31px;transform:scaleX(0.9980);-webkit-text-stroke:0.45px #f1585d;">59A</div>
<div class="b v" style="left:1430.0px;top:907.7px;background:#ee2e35;"></div>
<div class="t " style="left:1445.68px;top:918.05px;font-size:31px;line-height:31px;transform:scaleX(1.0055);-webkit-text-stroke:0.45px #f1585d;">50A</div>
<div class="b v" style="left:1570.5px;top:907.7px;background:#ee2e35;"></div>
<div class="t " style="left:1586.39px;top:918.05px;font-size:31px;line-height:31px;transform:scaleX(0.9980);-webkit-text-stroke:0.45px #f1585d;">59A</div>
<div class="b v" style="left:1705.5px;top:907.7px;background:#ee2e35;"></div>
<div class="t " style="left:1721.18px;top:918.05px;font-size:31px;line-height:31px;transform:scaleX(1.0055);-webkit-text-stroke:0.45px #f1585d;">50A</div>
</div>
<div class="row r9">
<div class="b" style="left:103.0px;top:978.5px;width:88.0px;height:63.3px;background:#5a9ea4;"></div>
<div class="t " style="left:131.24px;top:984.59px;font-size:29.3px;line-height:29.3px;transform:scaleX(0.9362);-webkit-text-stroke:0.45px #5a9ea4;">10</div>
<div class="t " style="left:117.46px;top:1010.16px;font-size:25.8px;line-height:25.8px;transform:scaleX(1.1454);-webkit-text-stroke:0.45px #5a9ea4;">mm²</div>
<div class="b" style="left:290.8px;top:988.0px;width:73.19999999999999px;height:49.8px;background:#5a9ea4;"></div>
<div class="b v" style="left:740.8px;top:981.0px;background:#5a9ea4;"></div>
<div class="t " style="left:755.81px;top:990.85px;font-size:31px;line-height:31px;transform:scaleX(1.0229);-webkit-text-stroke:0.45px #7bb1b6;">64A</div>
<div class="b v" style="left:876.0px;top:981.0px;background:#5a9ea4;"></div>
<div class="t " style="left:891.01px;top:990.85px;font-size:31px;line-height:31px;transform:scaleX(1.0229);-webkit-text-stroke:0.45px #7bb1b6;">60A</div>
<div class="b v" style="left:1017.5px;top:981.0px;background:#5a9ea4;"></div>
<div class="t " style="left:1032.51px;top:990.85px;font-size:31px;line-height:31px;transform:scaleX(1.0229);-webkit-text-stroke:0.45px #7bb1b6;">64A</div>
<div class="b v" style="left:1152.0px;top:981.0px;background:#5a9ea4;"></div>
<div class="t " style="left:1167.01px;top:990.85px;font-size:31px;line-height:31px;transform:scaleX(1.0229);-webkit-text-stroke:0.45px #7bb1b6;">60A</div>
<div class="b v" style="left:1294.0px;top:981.0px;background:#5a9ea4;"></div>
<div class="t " style="left:1309.01px;top:990.85px;font-size:31px;line-height:31px;transform:scaleX(1.0229);-webkit-text-stroke:0.45px #7bb1b6;">64A</div>
<div class="b v" style="left:1429.0px;top:981.0px;background:#5a9ea4;"></div>
<div class="t " style="left:1444.01px;top:990.85px;font-size:31px;line-height:31px;transform:scaleX(1.0229);-webkit-text-stroke:0.45px #7bb1b6;">60A</div>
<div class="b v" style="left:1569.5px;top:981.0px;background:#5a9ea4;"></div>
<div class="t " style="left:1584.51px;top:990.85px;font-size:31px;line-height:31px;transform:scaleX(1.0229);-webkit-text-stroke:0.45px #7bb1b6;">64A</div>
<div class="b v" style="left:1704.5px;top:981.0px;background:#5a9ea4;"></div>
<div class="t " style="left:1719.51px;top:990.85px;font-size:31px;line-height:31px;transform:scaleX(1.0229);-webkit-text-stroke:0.45px #7bb1b6;">60A</div>
</div>
<div class="row r10">
<div class="b" style="left:103.0px;top:1052.0px;width:88.0px;height:63.3px;background:#d45b5f;"></div>
<div class="t " style="left:120.27px;top:1058.09px;font-size:29.3px;line-height:29.3px;transform:scaleX(0.9213);-webkit-text-stroke:0.45px #d45b5f;">13.5</div>
<div class="t " style="left:117.46px;top:1083.66px;font-size:25.8px;line-height:25.8px;transform:scaleX(1.1454);-webkit-text-stroke:0.45px #d45b5f;">mm²</div>
<div class="b" style="left:290.8px;top:1061.0px;width:73.19999999999999px;height:49.8px;background:#d45b5f;"></div>
<div class="t " style="left:318.22px;top:1070.55px;font-size:31px;line-height:31px;transform:scaleX(1.0521);-webkit-text-stroke:0.45px #d45b5f;">6</div>
<div class="b v" style="left:1016.6px;top:1055.0px;background:#d45b5f;"></div>
<div class="t " style="left:1027.11px;top:1065.05px;font-size:31px;line-height:31px;transform:scaleX(0.8967);-webkit-text-stroke:0.45px #dd7c7f;">103A</div>
<div class="b v" style="left:1152.0px;top:1055.0px;background:#d45b5f;"></div>
<div class="t " style="left:1167.41px;top:1065.05px;font-size:31px;line-height:31px;transform:scaleX(1.0130);-webkit-text-stroke:0.45px #dd7c7f;">85A</div>
<div class="b v" style="left:1294.0px;top:1055.0px;background:#d45b5f;"></div>
<div class="t " style="left:1304.51px;top:1065.05px;font-size:31px;line-height:31px;transform:scaleX(0.8967);-webkit-text-stroke:0.45px #dd7c7f;">103A</div>
<div class="b v" style="left:1429.0px;top:1055.0px;background:#d45b5f;"></div>
<div class="t " style="left:1444.41px;top:1065.05px;font-size:31px;line-height:31px;transform:scaleX(1.0130);-webkit-text-stroke:0.45px #dd7c7f;">85A</div>
<div class="b v" style="left:1569.5px;top:1055.0px;background:#d45b5f;"></div>
<div class="t " style="left:1580.01px;top:1065.05px;font-size:31px;line-height:31px;transform:scaleX(0.8967);-webkit-text-stroke:0.45px #dd7c7f;">103A</div>
<div class="b v" style="left:1704.5px;top:1055.0px;background:#d45b5f;"></div>
<div class="t " style="left:1719.91px;top:1065.05px;font-size:31px;line-height:31px;transform:scaleX(1.0130);-webkit-text-stroke:0.45px #dd7c7f;">85A</div>
</div>
<div class="row r11">
<div class="b" style="left:103.0px;top:1124.6px;width:88.0px;height:63.3px;background:#c377b9;"></div>
<div class="t " style="left:131.23px;top:1124.39px;font-size:29.3px;line-height:29.3px;transform:scaleX(0.9408);-webkit-text-stroke:0.45px #c377b9;">16</div>
<div class="t " style="left:117.46px;top:1150.76px;font-size:25.8px;line-height:25.8px;transform:scaleX(1.1454);-webkit-text-stroke:0.45px #c377b9;">mm²</div>
<div class="t " style="left:129.94px;top:1175.19px;font-size:13px;line-height:13px;transform:scaleX(1.0515);">TWIN</div>
<div class="b" style="left:290.8px;top:1134.0px;width:73.19999999999999px;height:49.8px;background:#c377b9;"></div>
<div class="t " style="left:318.84px;top:1141.95px;font-size:31px;line-height:31px;transform:scaleX(0.9968);-webkit-text-stroke:0.45px #c377b9;">5</div>
<div class="b v" style="left:1016.6px;top:1128.3px;background:#c377b9;"></div>
<div class="t " style="left:1031.90px;top:1138.35px;font-size:31px;line-height:31px;transform:scaleX(1.0150);-webkit-text-stroke:0.45px #cf92c7;">90A</div>
<div class="b v" style="left:1152.0px;top:1128.3px;background:#c377b9;"></div>
<div class="t " style="left:1167.41px;top:1138.35px;font-size:31px;line-height:31px;transform:scaleX(1.0130);-webkit-text-stroke:0.45px #cf92c7;">85A</div>
<div class="b v" style="left:1294.0px;top:1128.3px;background:#c377b9;"></div>
<div class="t " style="left:1309.30px;top:1138.35px;font-size:31px;line-height:31px;transform:scaleX(1.0150);-webkit-text-stroke:0.45px #cf92c7;">90A</div>
<div class="b v" style="left:1429.0px;top:1128.3px;background:#c377b9;"></div>
<div class="t " style="left:1444.41px;top:1138.35px;font-size:31px;line-height:31px;transform:scaleX(1.0130);-webkit-text-stroke:0.45px #cf92c7;">85A</div>
<div class="b v" style="left:1569.5px;top:1128.3px;background:#c377b9;"></div>
<div class="t " style="left:1584.80px;top:1138.35px;font-size:31px;line-height:31px;transform:scaleX(1.0150);-webkit-text-stroke:0.45px #cf92c7;">90A</div>
<div class="b v" style="left:1704.5px;top:1128.3px;background:#c377b9;"></div>
<div class="t " style="left:1719.91px;top:1138.35px;font-size:31px;line-height:31px;transform:scaleX(1.0130);-webkit-text-stroke:0.45px #cf92c7;">85A</div>
</div>
<div class="row r12">
<div class="b" style="left:103.0px;top:1202.4px;width:88.0px;height:63.3px;background:#8fc392;"></div>
<div class="t " style="left:128.80px;top:1202.19px;font-size:29.3px;line-height:29.3px;transform:scaleX(1.1060);-webkit-text-stroke:0.45px #8fc392;">20</div>
<div class="t " style="left:117.46px;top:1228.56px;font-size:25.8px;line-height:25.8px;transform:scaleX(1.1454);-webkit-text-stroke:0.45px #8fc392;">mm²</div>
<div class="t " style="left:129.94px;top:1252.99px;font-size:13px;line-height:13px;transform:scaleX(1.0515);">TWIN</div>
<div class="b" style="left:290.8px;top:1210.4px;width:73.19999999999999px;height:49.8px;background:#8fc392;"></div>
<div class="t " style="left:318.75px;top:1220.05px;font-size:31px;line-height:31px;transform:scaleX(1.0147);-webkit-text-stroke:0.45px #8fc392;">4</div>
<div class="b v" style="left:1016.6px;top:1205.0px;background:#8fc392;"></div>
<div class="t " style="left:1026.04px;top:1215.75px;font-size:31px;line-height:31px;transform:scaleX(0.9253);-webkit-text-stroke:0.45px #a5cfa8;">100A</div>
<div class="b v" style="left:1152.0px;top:1205.0px;background:#8fc392;"></div>
<div class="t " style="left:1167.30px;top:1215.75px;font-size:31px;line-height:31px;transform:scaleX(1.0150);-webkit-text-stroke:0.45px #a5cfa8;">90A</div>
<div class="b v" style="left:1294.0px;top:1205.0px;background:#8fc392;"></div>
<div class="t " style="left:1303.44px;top:1215.75px;font-size:31px;line-height:31px;transform:scaleX(0.9253);-webkit-text-stroke:0.45px #a5cfa8;">100A</div>
<div class="b v" style="left:1429.0px;top:1205.0px;background:#8fc392;"></div>
<div class="t " style="left:1444.30px;top:1215.75px;font-size:31px;line-height:31px;transform:scaleX(1.0150);-webkit-text-stroke:0.45px #a5cfa8;">90A</div>
<div class="b v" style="left:1569.5px;top:1205.0px;background:#8fc392;"></div>
<div class="t " style="left:1578.94px;top:1215.75px;font-size:31px;line-height:31px;transform:scaleX(0.9253);-webkit-text-stroke:0.45px #a5cfa8;">100A</div>
<div class="b v" style="left:1704.5px;top:1205.0px;background:#8fc392;"></div>
<div class="t " style="left:1719.80px;top:1215.75px;font-size:31px;line-height:31px;transform:scaleX(1.0150);-webkit-text-stroke:0.45px #a5cfa8;">90A</div>
</div>
<div class="row r13">
<div class="b" style="left:103.0px;top:1277.2px;width:88.0px;height:63.3px;background:#f8a45e;"></div>
<div class="t " style="left:116.35px;top:1283.29px;font-size:29.3px;line-height:29.3px;transform:scaleX(1.0716);-webkit-text-stroke:0.45px #f8a45e;">25.6</div>
<div class="t " style="left:117.46px;top:1308.86px;font-size:25.8px;line-height:25.8px;transform:scaleX(1.1454);-webkit-text-stroke:0.45px #f8a45e;">mm²</div>
<div class="b" style="left:290.8px;top:1286.0px;width:73.19999999999999px;height:49.8px;background:#f8a45e;"></div>
<div class="t " style="left:318.78px;top:1294.45px;font-size:31px;line-height:31px;transform:scaleX(1.0104);-webkit-text-stroke:0.45px #f8a45e;">3</div>
<div class="b v" style="left:1017.6px;top:1280.0px;background:#f8a45e;"></div>
<div class="t " style="left:1027.57px;top:1290.75px;font-size:31px;line-height:31px;transform:scaleX(0.9110);-webkit-text-stroke:0.45px #f9b67e;">168A</div>
<div class="b v" style="left:1153.0px;top:1280.0px;background:#f8a45e;"></div>
<div class="t " style="left:1162.76px;top:1290.75px;font-size:31px;line-height:31px;transform:scaleX(0.9167);-webkit-text-stroke:0.45px #f9b67e;">150A</div>
<div class="b v" style="left:1295.0px;top:1280.0px;background:#f8a45e;"></div>
<div class="t " style="left:1304.97px;top:1290.75px;font-size:31px;line-height:31px;transform:scaleX(0.9110);-webkit-text-stroke:0.45px #f9b67e;">168A</div>
<div class="b v" style="left:1430.0px;top:1280.0px;background:#f8a45e;"></div>
<div class="t " style="left:1439.76px;top:1290.75px;font-size:31px;line-height:31px;transform:scaleX(0.9167);-webkit-text-stroke:0.45px #f9b67e;">150A</div>
<div class="b v" style="left:1569.5px;top:1280.0px;background:#f8a45e;"></div>
<div class="t " style="left:1579.47px;top:1290.75px;font-size:31px;line-height:31px;transform:scaleX(0.9110);-webkit-text-stroke:0.45px #f9b67e;">168A</div>
<div class="b v" style="left:1704.5px;top:1280.0px;background:#f8a45e;"></div>
<div class="t " style="left:1714.26px;top:1290.75px;font-size:31px;line-height:31px;transform:scaleX(0.9167);-webkit-text-stroke:0.45px #f9b67e;">150A</div>
</div>
<div class="row r14">
<div class="b" style="left:103.0px;top:1351.0px;width:88.0px;height:63.3px;background:#db893d;"></div>
<div class="t " style="left:130.00px;top:1350.79px;font-size:29.3px;line-height:29.3px;transform:scaleX(1.0550);-webkit-text-stroke:0.45px #db893d;">32</div>
<div class="t " style="left:117.46px;top:1377.16px;font-size:25.8px;line-height:25.8px;transform:scaleX(1.1454);-webkit-text-stroke:0.45px #db893d;">mm²</div>
<div class="t " style="left:129.94px;top:1401.59px;font-size:13px;line-height:13px;transform:scaleX(1.0515);">TWIN</div>
<div class="b" style="left:290.8px;top:1360.4px;width:73.19999999999999px;height:49.8px;background:#db893d;"></div>
<div class="t " style="left:318.34px;top:1368.05px;font-size:31px;line-height:31px;transform:scaleX(1.0515);-webkit-text-stroke:0.45px #db893d;">2</div>
<div class="b v" style="left:1017.6px;top:1354.0px;background:#db893d;"></div>
<div class="t " style="left:1027.36px;top:1365.05px;font-size:31px;line-height:31px;transform:scaleX(0.9167);-webkit-text-stroke:0.45px #e2a164;">150A</div>
<div class="b v" style="left:1153.0px;top:1354.0px;background:#db893d;"></div>
<div class="t " style="left:1163.67px;top:1365.05px;font-size:31px;line-height:31px;transform:scaleX(0.8924);-webkit-text-stroke:0.45px #e2a164;">125A</div>
<div class="b v" style="left:1295.0px;top:1354.0px;background:#db893d;"></div>
<div class="t " style="left:1304.76px;top:1365.05px;font-size:31px;line-height:31px;transform:scaleX(0.9167);-webkit-text-stroke:0.45px #e2a164;">150A</div>
<div class="b v" style="left:1430.0px;top:1354.0px;background:#db893d;"></div>
<div class="t " style="left:1440.67px;top:1365.05px;font-size:31px;line-height:31px;transform:scaleX(0.8924);-webkit-text-stroke:0.45px #e2a164;">125A</div>
<div class="b v" style="left:1570.5px;top:1354.0px;background:#db893d;"></div>
<div class="t " style="left:1580.26px;top:1365.05px;font-size:31px;line-height:31px;transform:scaleX(0.9167);-webkit-text-stroke:0.45px #e2a164;">150A</div>
<div class="b v" style="left:1705.5px;top:1354.0px;background:#db893d;"></div>
<div class="t " style="left:1716.17px;top:1365.05px;font-size:31px;line-height:31px;transform:scaleX(0.8924);-webkit-text-stroke:0.45px #e2a164;">125A</div>
</div>
<div class="row r15">
<div class="b" style="left:103.0px;top:1425.0px;width:88.0px;height:63.3px;background:#cfc87a;"></div>
<div class="t " style="left:130.00px;top:1424.79px;font-size:29.3px;line-height:29.3px;transform:scaleX(1.0550);-webkit-text-stroke:0.45px #cfc87a;">32</div>
<div class="t " style="left:117.46px;top:1451.16px;font-size:25.8px;line-height:25.8px;transform:scaleX(1.1454);-webkit-text-stroke:0.45px #cfc87a;">mm²</div>
<div class="t " style="left:123.72px;top:1475.59px;font-size:13px;line-height:13px;transform:scaleX(0.9756);">SINGLE</div>
<div class="b" style="left:290.8px;top:1435.0px;width:73.19999999999999px;height:49.8px;background:#cfc87a;"></div>
<div class="t " style="left:318.34px;top:1442.15px;font-size:31px;line-height:31px;transform:scaleX(1.0515);-webkit-text-stroke:0.45px #cfc87a;">2</div>
<div class="b v" style="left:1016.6px;top:1428.3px;background:#c1bc6f;"></div>
<div class="t " style="left:1026.04px;top:1439.05px;font-size:31px;line-height:31px;transform:scaleX(0.9253);-webkit-text-stroke:0.45px #cdc98c;">188A</div>
<div class="b v" style="left:1152.0px;top:1428.3px;background:#c1bc6f;"></div>
<div class="t " style="left:1162.83px;top:1439.05px;font-size:31px;line-height:31px;transform:scaleX(0.8881);-webkit-text-stroke:0.45px #cdc98c;">175A</div>
<div class="b v" style="left:1295.2px;top:1428.3px;background:#c1bc6f;"></div>
<div class="t " style="left:1304.64px;top:1439.05px;font-size:31px;line-height:31px;transform:scaleX(0.9253);-webkit-text-stroke:0.45px #cdc98c;">188A</div>
<div class="b v" style="left:1430.2px;top:1428.3px;background:#c1bc6f;"></div>
<div class="t " style="left:1441.03px;top:1439.05px;font-size:31px;line-height:31px;transform:scaleX(0.8881);-webkit-text-stroke:0.45px #cdc98c;">175A</div>
<div class="b v" style="left:1570.5px;top:1428.3px;background:#c1bc6f;"></div>
<div class="t " style="left:1579.94px;top:1439.05px;font-size:31px;line-height:31px;transform:scaleX(0.9253);-webkit-text-stroke:0.45px #cdc98c;">188A</div>
<div class="b v" style="left:1705.5px;top:1428.3px;background:#c1bc6f;"></div>
<div class="t " style="left:1716.33px;top:1439.05px;font-size:31px;line-height:31px;transform:scaleX(0.8881);-webkit-text-stroke:0.45px #cdc98c;">175A</div>
</div>
<div class="row r16">
<div class="b" style="left:103.0px;top:1500.4px;width:88.0px;height:63.3px;background:#6ccdb1;"></div>
<div class="t " style="left:129.28px;top:1506.49px;font-size:29.3px;line-height:29.3px;transform:scaleX(1.1120);-webkit-text-stroke:0.45px #6ccdb1;">49</div>
<div class="t " style="left:117.46px;top:1532.06px;font-size:25.8px;line-height:25.8px;transform:scaleX(1.1454);-webkit-text-stroke:0.45px #6ccdb1;">mm²</div>
<div class="b" style="left:290.8px;top:1508.8px;width:73.19999999999999px;height:49.8px;background:#6ccdb1;"></div>
<div class="t " style="left:318.18px;top:1517.25px;font-size:31px;line-height:31px;transform:scaleX(1.0696);-webkit-text-stroke:0.45px #6ccdb1;">0</div>
<div class="b v" style="left:1295.2px;top:1502.9px;background:#6ccdb1;"></div>
<div class="t " style="left:1301.74px;top:1513.25px;font-size:31px;line-height:31px;transform:scaleX(1.0137);-webkit-text-stroke:0.45px #89d7c1;">246A</div>
<div class="b v" style="left:1430.2px;top:1502.9px;background:#6ccdb1;"></div>
<div class="t " style="left:1437.74px;top:1513.25px;font-size:31px;line-height:31px;transform:scaleX(0.9869);-webkit-text-stroke:0.45px #89d7c1;">225A</div>
<div class="b v" style="left:1569.5px;top:1502.9px;background:#6ccdb1;"></div>
<div class="t " style="left:1576.04px;top:1513.25px;font-size:31px;line-height:31px;transform:scaleX(1.0137);-webkit-text-stroke:0.45px #89d7c1;">246A</div>
<div class="b v" style="left:1704.5px;top:1502.9px;background:#6ccdb1;"></div>
<div class="t " style="left:1712.04px;top:1513.25px;font-size:31px;line-height:31px;transform:scaleX(0.9869);-webkit-text-stroke:0.45px #89d7c1;">225A</div>
</div>
<div class="row r17">
<div class="b" style="left:103.0px;top:1574.4px;width:88.0px;height:63.3px;background:#c49296;"></div>
<div class="t " style="left:111.28px;top:1574.19px;font-size:29.3px;line-height:29.3px;transform:scaleX(0.9709);-webkit-text-stroke:0.45px #c49296;">64.15</div>
<div class="t " style="left:117.46px;top:1600.56px;font-size:25.8px;line-height:25.8px;transform:scaleX(1.1454);-webkit-text-stroke:0.45px #c49296;">mm²</div>
<div class="t " style="left:129.94px;top:1624.99px;font-size:13px;line-height:13px;transform:scaleX(1.0515);">TWIN</div>
<div class="b" style="left:290.8px;top:1583.0px;width:73.19999999999999px;height:49.8px;background:#c49296;"></div>
<div class="t " style="left:302.33px;top:1592.35px;font-size:31px;line-height:31px;transform:scaleX(1.1544);-webkit-text-stroke:0.45px #c49296;">2/0</div>
<div class="b v" style="left:1295.2px;top:1577.4px;background:#c49296;"></div>
<div class="t " style="left:1302.48px;top:1587.75px;font-size:31px;line-height:31px;transform:scaleX(0.9939);-webkit-text-stroke:0.45px #d0a8ab;">292A</div>
<div class="b v" style="left:1430.2px;top:1577.4px;background:#c49296;"></div>
<div class="t " style="left:1437.74px;top:1587.75px;font-size:31px;line-height:31px;transform:scaleX(0.9869);-webkit-text-stroke:0.45px #d0a8ab;">275A</div>
<div class="b v" style="left:1569.5px;top:1577.4px;background:#c49296;"></div>
<div class="t " style="left:1576.78px;top:1587.75px;font-size:31px;line-height:31px;transform:scaleX(0.9939);-webkit-text-stroke:0.45px #d0a8ab;">292A</div>
<div class="b v" style="left:1704.5px;top:1577.4px;background:#c49296;"></div>
<div class="t " style="left:1712.04px;top:1587.75px;font-size:31px;line-height:31px;transform:scaleX(0.9869);-webkit-text-stroke:0.45px #d0a8ab;">275A</div>
</div>
<div class="row r18">
<div class="b" style="left:103.0px;top:1647.6px;width:88.0px;height:63.3px;background:#6a963e;"></div>
<div class="t " style="left:130.09px;top:1647.39px;font-size:29.3px;line-height:29.3px;transform:scaleX(1.1555);-webkit-text-stroke:0.45px #6a963e;">95</div>
<div class="t " style="left:119.46px;top:1673.76px;font-size:25.8px;line-height:25.8px;transform:scaleX(1.1454);-webkit-text-stroke:0.45px #6a963e;">mm²</div>
<div class="t " style="left:125.72px;top:1698.19px;font-size:13px;line-height:13px;transform:scaleX(0.9756);">SINGLE</div>
<div class="b" style="left:290.8px;top:1656.0px;width:73.19999999999999px;height:49.8px;background:#6a963e;"></div>
<div class="t " style="left:302.77px;top:1665.65px;font-size:31px;line-height:31px;transform:scaleX(1.1437);-webkit-text-stroke:0.45px #6a963e;">3/0</div>
<div class="b v" style="left:1295.2px;top:1650.5px;background:#6a903d;"></div>
<div class="t " style="left:1301.93px;top:1661.35px;font-size:31px;line-height:31px;transform:scaleX(1.0139);-webkit-text-stroke:0.45px #88a664;">300A</div>
<div class="b v" style="left:1430.2px;top:1650.5px;background:#6a903d;"></div>
<div class="t " style="left:1436.93px;top:1661.35px;font-size:31px;line-height:31px;transform:scaleX(1.0139);-webkit-text-stroke:0.45px #88a664;">300A</div>
<div class="b v" style="left:1569.5px;top:1650.5px;background:#6a903d;"></div>
<div class="t " style="left:1576.23px;top:1661.35px;font-size:31px;line-height:31px;transform:scaleX(1.0139);-webkit-text-stroke:0.45px #88a664;">300A</div>
<div class="b v" style="left:1704.5px;top:1650.5px;background:#6a903d;"></div>
<div class="t " style="left:1711.23px;top:1661.35px;font-size:31px;line-height:31px;transform:scaleX(1.0139);-webkit-text-stroke:0.45px #88a664;">300A</div>
</div>
<div class="row r19">
<div class="b" style="left:103.0px;top:1722.3px;width:88.0px;height:63.3px;background:#e2bd95;"></div>
<div class="t " style="left:123.75px;top:1729.89px;font-size:29.3px;line-height:29.3px;transform:scaleX(0.9306);-webkit-text-stroke:0.45px #e2bd95;">120</div>
<div class="t " style="left:117.46px;top:1755.46px;font-size:25.8px;line-height:25.8px;transform:scaleX(1.1454);-webkit-text-stroke:0.45px #e2bd95;">mm²</div>
<div class="b" style="left:290.8px;top:1730.4px;width:73.19999999999999px;height:49.8px;background:#e2bd95;"></div>
<div class="t " style="left:302.86px;top:1740.25px;font-size:31px;line-height:31px;transform:scaleX(1.1525);-webkit-text-stroke:0.45px #e2bd95;">4/0</div>
<div class="b v" style="left:1295.2px;top:1725.0px;background:#ddba92;"></div>
<div class="t " style="left:1301.93px;top:1735.85px;font-size:31px;line-height:31px;transform:scaleX(1.0139);-webkit-text-stroke:0.45px #e4c8a8;">350A</div>
<div class="b v" style="left:1430.2px;top:1725.0px;background:#ddba92;"></div>
<div class="t " style="left:1436.93px;top:1735.85px;font-size:31px;line-height:31px;transform:scaleX(1.0139);-webkit-text-stroke:0.45px #e4c8a8;">350A</div>
<div class="b v" style="left:1569.5px;top:1725.0px;background:#ddba92;"></div>
<div class="t " style="left:1576.23px;top:1735.85px;font-size:31px;line-height:31px;transform:scaleX(1.0139);-webkit-text-stroke:0.45px #e4c8a8;">350A</div>
<div class="b v" style="left:1704.5px;top:1725.0px;background:#ddba92;"></div>
<div class="t " style="left:1711.23px;top:1735.85px;font-size:31px;line-height:31px;transform:scaleX(1.0139);-webkit-text-stroke:0.45px #e4c8a8;">350A</div>
</div>
</main>
<footer>
<div class="t " style="left:1288.96px;top:1874.02px;font-size:21px;line-height:21px;transform:scaleX(1.0304);color:#111;-webkit-text-stroke:0.35px currentColor;">ALVOLTA - BUILT FOR POWER | www.alvolta.com.au</div>
</footer>
</div></body></html>
